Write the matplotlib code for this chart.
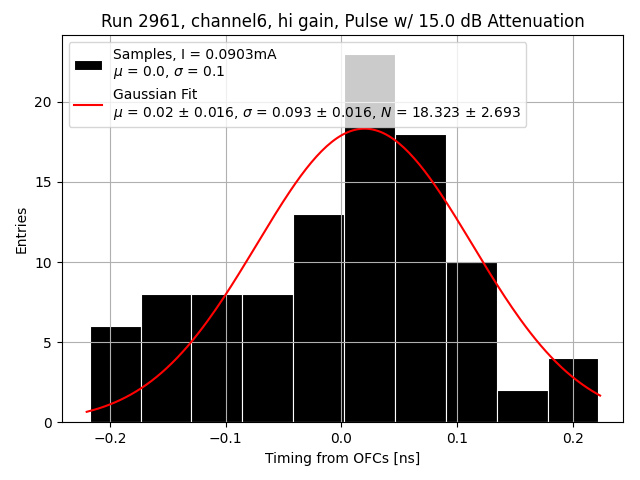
import numpy as np
import matplotlib
matplotlib.use("Agg")
import matplotlib.pyplot as plt

# histogram
bin_lo, bin_hi = -0.2175, 0.2222
counts = [6, 8, 8, 8, 13, 23, 18, 10, 2, 4]

# fit parameters as printed in the legend
fit_mu = 0.02
fit_sigma = 0.093
fit_N = 18.323
fit_x_range = (-0.2201, 0.2236)

title = "Run 2961, channel6, hi gain, Pulse w/ 15.0 dB Attenuation"
hist_label = "Samples, I = 0.0903mA\n$\\mu$ = 0.0, $\\sigma$ = 0.1"
fit_label = ("Gaussian Fit\n$\\mu$ = 0.02 $\\pm$ 0.016, $\\sigma$ = 0.093 $\\pm$ 0.016, "
             "$N$ = 18.323 $\\pm$ 2.693")


def gauss(x, mu, sigma, n):
    return n * np.exp(-0.5 * ((x - mu) / sigma) ** 2)


edges = np.linspace(bin_lo, bin_hi, len(counts) + 1)

fig, ax = plt.subplots(figsize=(6.4, 4.8), dpi=100)
bars = ax.bar(edges[:-1], counts, width=np.diff(edges), align="edge",
              color="black", edgecolor="white", linewidth=0.8, label=hist_label)

xs = np.linspace(*fit_x_range, 200)
line, = ax.plot(xs, gauss(xs, fit_mu, fit_sigma, fit_N), color="red", label=fit_label)

ax.set_xlim(-0.2417, 0.2437)
ax.set_title(title)
ax.set_xlabel("Timing from OFCs [ns]")
ax.set_ylabel("Entries")
ax.grid(True)
ax.legend(handles=[bars, line], loc="upper left")

fig.subplots_adjust(left=0.0964, right=0.974, top=0.9265, bottom=0.1202)
plt.savefig("out.png", dpi=100)
